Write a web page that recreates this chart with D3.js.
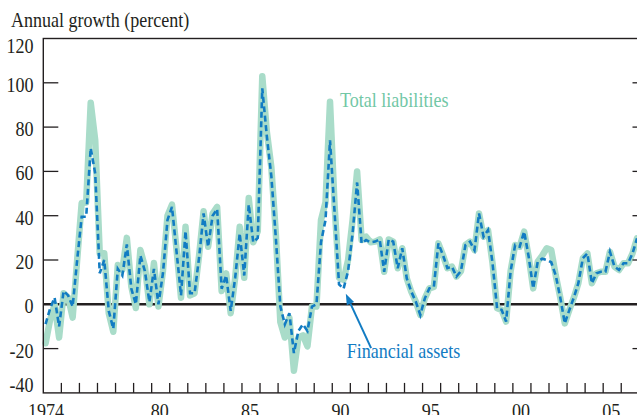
<!DOCTYPE html>
<html>
<head>
<meta charset="utf-8">
<script src="https://cdn.jsdelivr.net/npm/d3@7"></script>
<style>
  html, body { margin: 0; padding: 0; background: #fff; }
  svg { display: block; }
</style>
</head>
<body>
<svg id="chart" width="637" height="415"></svg>
<script>
// quarterly, 1974Q1 .. 2006Q4, annual growth in percent
const startYear = 1974;

const totalLiabilities = [
  -17.6, -7, 0, -15, 5, 3, -6, 20, 45.7, 46, 91, 74, 23, 23, -4, -12.4, 17.7, 15.5, 30, 8, -1.7, 24.5, 17, 0,
  18.6, -1, 15, 40, 45, 25, 3, 35, 4, 5, 22, 42, 26, 41, 44, 6, 14, -4, 12, 35, 12, 48, 28, 33,
  103, 78, 62, 32, -8, -15, -6, -30, -15, -14, -19, -1, -1, 38, 46, 91.5, 45, 12, 11, 20, 38, 60, 29, 30.5,
  28, 28.3, 29.3, 14.7, 29.3, 28.3, 16.3, 25.3, 11.7, 5.7, 1.2, -4.8, 2.7, 7.2, 7.9, 27.5, 22.3, 16.3, 17, 12.5,
  15, 26.8, 28.3, 24.5, 41, 30.5, 33.5, 18.5, -1.8, -2.5, -7.8, 15, 26.8, 26, 32.8, 21.5, 7.2, 19.2, 22, 25.3,
  24.5, 13, 3, -8.6, -2.6, 3, 9.5, 20.8, 23, 9.5, 14, 14.7, 14.7, 23.7, 17, 15.5, 18.5, 18.5, 23, 29.8
];

const financialAssets = [
  -9, -2, 3, -10, 6, 4, -1, 20, 39.5, 39.5, 70.5, 59, 14, 20, -3, -11, 16, 13, 27, 7, 0, 22, 15, 1,
  16, 0, 14, 38, 44, 24, 4, 33, 5, 5, 21, 41, 26, 40, 43, 7, 13, -3, 12, 32, 13, 45, 28, 30,
  97.5, 76, 58, 30, -1, -9, -4, -22, -12, -9, -12, -1, 0, 28, 38, 74, 42, 9, 7, 15, 32, 55, 27.5, 29,
  28, 28.3, 29.3, 14.7, 29.3, 28.3, 16.3, 25.3, 11.7, 5.7, 1.2, -4.8, 2.7, 7.2, 7.9, 27.5, 22.3, 16.3, 17, 12.5,
  15, 26.8, 28.3, 24.5, 41, 30.5, 33.5, 18.5, -1.8, -2.5, -7.8, 15, 26.8, 26, 32.8, 21.5, 7.2, 19.2, 20.6, 20,
  19, 13, 3, -8.6, -2.6, 3, 9.5, 20.8, 23, 9.5, 14, 14.7, 14.7, 23.7, 17, 15.5, 18.5, 18.5, 23, 29.8
];

const yTicks = [-40, -20, 0, 20, 40, 60, 80, 100, 120];
const xLabelYears = [1974, 1980, 1985, 1990, 1995, 2000, 2005];
const xLabels = ["1974", "80", "85", "90", "95", "00", "05"];
const tickYears = d3.range(1975, 2007);

// annotation anchors in data units [year, percent]
const liabilitiesLabel = { text: "Total liabilities", at: [1990.43, 89.2] };
const assetsLabel = { text: "Financial assets", at: [1990.8, -24.4] };
const assetsArrow = { from: [1992.15, -19.8], to: [1990.75, 4.8] };

const INK = "#231f20";
const MINT = "#a9dcc9";
const MINT_TEXT = "#72c7a6";
const BLUE = "#127cc3";
const FONT = "'Liberation Serif', 'Times New Roman', serif";
const FONT_SIZE = 20.5;
const SQUEEZE = 0.88;

const plot = { left: 43.3, top: 38.5, bottom: 392.9, right: 643 };

const svg = d3.select("#chart");

const x = d3.scaleLinear().domain([1974, 2007]).range([plot.left, 639.3]);
const y = d3.scaleLinear().domain([-40, 120]).range([plot.bottom, plot.top]);

const quarterDate = (i) => startYear + (i + 0.5) / 4;

function addText(parent, px, py, text, anchor, color) {
  parent
    .append("g")
    .attr("transform", `translate(${px},${py})`)
    .append("text")
    .attr("transform", `scale(${SQUEEZE},1)`)
    .attr("text-anchor", anchor)
    .attr("font-family", FONT)
    .attr("font-size", FONT_SIZE)
    .attr("fill", color || INK)
    .text(text);
}

// title
addText(svg, 11, 27.3, "Annual growth (percent)", "start");

// zero line
svg
  .append("line")
  .attr("x1", plot.left)
  .attr("x2", plot.right)
  .attr("y1", y(0))
  .attr("y2", y(0))
  .attr("stroke", INK)
  .attr("stroke-width", 2.6);

// series
const line = d3
  .line()
  .x((d, i) => x(quarterDate(i)))
  .y((d) => y(d));

svg
  .append("path")
  .datum(totalLiabilities)
  .attr("d", line)
  .attr("fill", "none")
  .attr("stroke", MINT)
  .attr("stroke-width", 6.5)
  .attr("stroke-linejoin", "round")
  .attr("stroke-linecap", "round");

svg
  .append("path")
  .datum(financialAssets)
  .attr("d", line)
  .attr("fill", "none")
  .attr("stroke", BLUE)
  .attr("stroke-width", 2.6)
  .attr("stroke-dasharray", "6,3.5");

// frame
svg
  .append("rect")
  .attr("x", plot.left)
  .attr("y", plot.top)
  .attr("width", plot.right - plot.left)
  .attr("height", plot.bottom - plot.top)
  .attr("fill", "none")
  .attr("stroke", INK)
  .attr("stroke-width", 1.4);

// y ticks, both sides
const innerTicks = yTicks.filter((v) => v > -40 && v < 120 && v !== 0);
svg
  .selectAll(".ytick-left")
  .data(innerTicks)
  .join("line")
  .attr("class", "ytick-left")
  .attr("x1", plot.left)
  .attr("x2", plot.left + 15)
  .attr("y1", (d) => y(d))
  .attr("y2", (d) => y(d))
  .attr("stroke", INK)
  .attr("stroke-width", 1.3);

svg
  .selectAll(".ytick-right")
  .data(innerTicks)
  .join("line")
  .attr("class", "ytick-right")
  .attr("x1", plot.right - 10.5)
  .attr("x2", plot.right)
  .attr("y1", (d) => y(d))
  .attr("y2", (d) => y(d))
  .attr("stroke", INK)
  .attr("stroke-width", 1.3);

yTicks.forEach((v) => {
  const base = Math.max(53, Math.min(392, y(v) + 9));
  addText(svg, 33.5, base, String(v), "end");
});

// x ticks
svg
  .selectAll(".xtick")
  .data(tickYears)
  .join("line")
  .attr("class", "xtick")
  .attr("x1", (d) => x(d))
  .attr("x2", (d) => x(d))
  .attr("y1", plot.bottom)
  .attr("y2", plot.bottom - 10)
  .attr("stroke", INK)
  .attr("stroke-width", 1.3);

xLabelYears.forEach((yr, i) => {
  const px = i === 0 ? 46 : x(yr + 0.45);
  addText(svg, px, 418, xLabels[i], "middle");
});

// labels and arrow
addText(svg, x(liabilitiesLabel.at[0]), y(liabilitiesLabel.at[1]), liabilitiesLabel.text, "start", MINT_TEXT);
addText(svg, x(assetsLabel.at[0]), y(assetsLabel.at[1]), assetsLabel.text, "start", BLUE);

const ax1 = x(assetsArrow.from[0]);
const ay1 = y(assetsArrow.from[1]);
const ax2 = x(assetsArrow.to[0]);
const ay2 = y(assetsArrow.to[1]);
const angle = Math.atan2(ay2 - ay1, ax2 - ax1);
const headLen = 11;
const headHalf = 4;
const bx = ax2 - headLen * Math.cos(angle);
const by = ay2 - headLen * Math.sin(angle);

svg
  .append("line")
  .attr("x1", ax1)
  .attr("y1", ay1)
  .attr("x2", bx)
  .attr("y2", by)
  .attr("stroke", BLUE)
  .attr("stroke-width", 2);

svg
  .append("path")
  .attr(
    "d",
    `M${ax2},${ay2}L${bx - headHalf * Math.sin(angle)},${by + headHalf * Math.cos(angle)}` +
      `L${bx + headHalf * Math.sin(angle)},${by - headHalf * Math.cos(angle)}Z`
  )
  .attr("fill", BLUE);
</script>
</body>
</html>
